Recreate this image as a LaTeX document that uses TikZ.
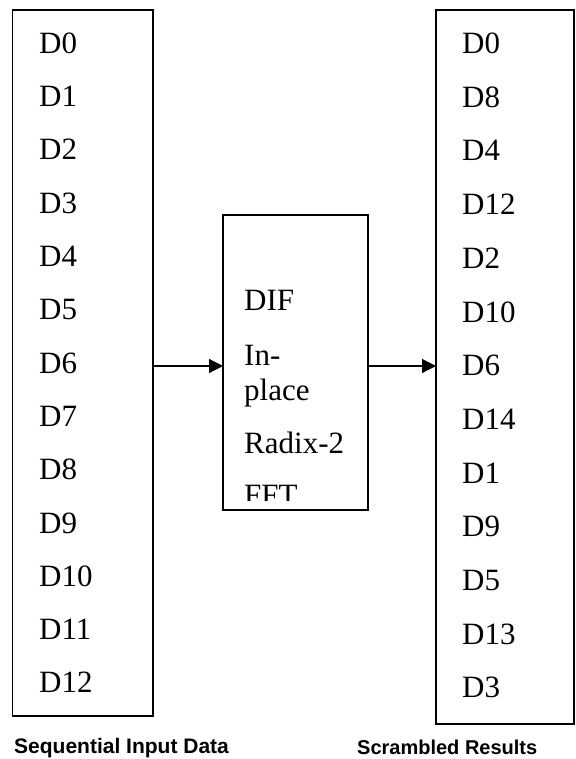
\documentclass[tikz,border=0pt]{standalone}
\usepackage{fontspec}
\setmainfont{Liberation Serif}
\newfontfamily\capfont{Liberation Sans}
\usetikzlibrary{arrows.meta}
\tikzset{
  box/.style={draw, line width=1.5pt, inner sep=0pt, outer sep=0pt},
  lbl/.style={anchor=base west, inner sep=0pt, font=\fontsize{31}{31}\selectfont},
  captxt/.style={anchor=base west, inner sep=0pt, font=\capfont\bfseries\fontsize{21}{21}\selectfont},
  arr/.style={line width=1.2pt, -{Triangle[length=14pt,width=14pt]}}
}
\begin{document}
\begin{tikzpicture}[x=1pt,y=-1pt]
\useasboundingbox (0,0) rectangle (575,759);
\node[box, minimum width=140.5pt, minimum height=706pt] (L) at (82.75,363) {};
\node[box, minimum width=138pt, minimum height=714pt] (R) at (505,367) {};
\node[box, minimum width=145pt, minimum height=295pt] (M) at (295.5,362.5) {};
\coordinate (ay) at (0,366);
\draw[arr] (L.east |- ay) -- (M.west |- ay);
\draw[arr] (M.east |- ay) -- (R.west |- ay);
\foreach \t [count=\i from 0] in {D0,D1,D2,D3,D4,D5,D6,D7,D8,D9,D10,D11,D12}
  \node[lbl] (l\i) at (39,{53.3+53.3*\i}) {\t};
\foreach \t [count=\i from 0] in {D0,D8,D4,D12,D2,D10,D6,D14,D1,D9,D5,D13,D3}
  \node[lbl] (r\i) at (462,{53.5+53.7*\i}) {\t};
\node[lbl] (m1) at (244,310) {DIF};
\node[lbl] (m2) at (244,365) {In-};
\node[lbl] (m3) at (244,400) {place};
\node[lbl] (m4) at (244,453) {Radix-2};
\begin{scope}
\clip (M.north west) rectangle (M.east |- 0,500);
\node[lbl] (m5) at (244,505.5) {FFT};
\end{scope}
\node[captxt] (c1) at (14,753) {Sequential Input Data};
\node[captxt, font=\capfont\bfseries\fontsize{20}{20}\selectfont] (c2) at (357,754) {Scrambled Results};
\end{tikzpicture}
\end{document}
